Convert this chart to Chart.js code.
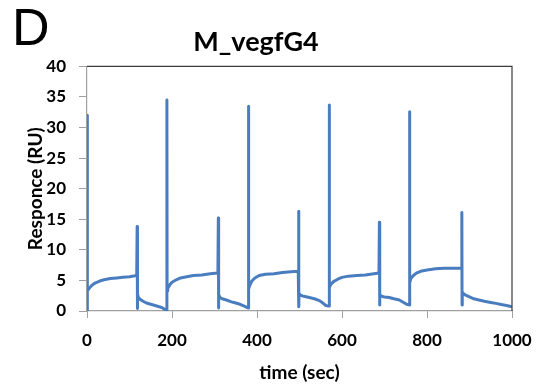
<!DOCTYPE html>
<html>
<head>
<meta charset="utf-8">
<script src="https://cdn.jsdelivr.net/npm/chart.js@4.4.1/dist/chart.umd.min.js"></script>
<style>
  html, body { margin: 0; padding: 0; background: #fff; }
  #wrap { position: relative; width: 539px; height: 390px; }
  #panel { position: absolute; left: 12px; top: 1px; font: 52px "Liberation Sans", Arial, sans-serif; line-height: 1; color: #000; }
</style>
</head>
<body>
<div id="wrap">
  <canvas id="sensorChart" width="539" height="390"></canvas>
  <div id="panel">D</div>
</div>
<script>
// sensorgram: time (sec) and response (RU)
const time = [
  0, 0, 0.5, 2, 5, 10, 15, 20, 30, 40, 55, 70, 85, 100, 117,
  118, 118.5, 119, 121, 125, 132, 140, 150, 160, 170, 178, 184, 187, 188,
  188, 188.5, 190, 195, 200, 210, 220, 235, 250, 270, 290, 308,
  309, 309.5, 310, 313, 318, 328, 340, 350, 360, 370, 376, 379,
  380, 380.5, 383, 388, 395, 405, 420, 440, 460, 480, 497,
  498, 498.5, 499, 502, 510, 523, 535, 547, 555, 562, 568, 570,
  570, 570.5, 573, 580, 590, 600, 615, 635, 655, 675, 687,
  688, 688.5, 689, 693, 700, 711, 722, 735, 745, 752, 758,
  759, 759.5, 762, 768, 775, 785, 800, 820, 840, 860, 882,
  882, 882.5, 883, 886, 891, 900, 910, 922, 935, 950, 962, 975, 990, 1000
];
const response = [
  0, 32, 2.8, 3.3, 3.7, 4.1, 4.4, 4.6, 4.9, 5.1, 5.3, 5.4, 5.5, 5.6, 5.8,
  13.8, 0.4, 2.8, 2.2, 1.9, 1.6, 1.3, 1.1, 0.9, 0.7, 0.5, 0.2, 0.0, 0.0,
  34.5, 3.3, 3.7, 4.3, 4.7, 5.1, 5.4, 5.6, 5.8, 5.9, 6.1, 6.2,
  15.2, 0.5, 2.7, 2.2, 2.0, 1.8, 1.5, 1.3, 1.1, 0.8, 0.6, 0.5,
  33.5, 3.6, 4.2, 4.9, 5.4, 5.8, 6.0, 6.1, 6.3, 6.4, 6.5,
  16.3, 0.7, 2.9, 2.6, 2.4, 2.2, 2.0, 1.7, 1.3, 0.9, 0.8, 0.8,
  33.7, 3.8, 4.3, 4.8, 5.2, 5.5, 5.7, 5.8, 5.9, 6.1, 6.2,
  14.5, 1.0, 2.7, 2.4, 2.3, 2.2, 2.0, 1.8, 1.4, 1.1, 1.0,
  32.6, 4.6, 5.3, 5.8, 6.2, 6.5, 6.7, 6.9, 7.0, 7.0, 7.0,
  16.1, 1.0, 3.1, 2.8, 2.6, 2.3, 2.0, 1.8, 1.6, 1.4, 1.25, 1.05, 0.85, 0.7
];
const xTicks = [0, 200, 400, 600, 800, 1000];
const yTicks = [0, 5, 10, 15, 20, 25, 30, 35, 40];

const points = time.map((t, i) => ({ x: t, y: response[i] }));

// top and right edges of the plot frame
const frame = {
  id: 'frame',
  afterDraw(chart) {
    const { ctx, chartArea: a } = chart;
    ctx.save();
    ctx.strokeStyle = '#3a3a3a';
    ctx.lineWidth = 1.2;
    ctx.beginPath();
    ctx.moveTo(a.left, a.top);
    ctx.lineTo(a.right, a.top);
    ctx.lineTo(a.right, a.bottom);
    ctx.stroke();
    ctx.restore();
  }
};

const tickFont = { family: 'Lato', size: 17, weight: 'bold' };
const titleFont = { family: 'Lato', size: 19, weight: 'bold' };

new Chart(document.getElementById('sensorChart'), {
  type: 'scatter',
  data: {
    datasets: [{
      data: points,
      showLine: true,
      borderColor: '#4a7dbf',
      borderWidth: 3,
      pointRadius: 0,
      tension: 0,
      borderJoinStyle: 'round'
    }]
  },
  options: {
    responsive: false,
    animation: false,
    layout: { autoPadding: false, padding: { left: 0, right: 27, top: 0, bottom: 0 } },
    plugins: {
      legend: { display: false },
      tooltip: { enabled: false },
      title: {
        display: true,
        text: 'M_vegfG4',
        color: '#000',
        font: { family: 'Lato', size: 27, weight: 'bold' },
        padding: { top: 26, bottom: 8 }
      }
    },
    scales: {
      x: {
        type: 'linear',
        min: 0,
        max: 1000,
        afterBuildTicks: s => { s.ticks = xTicks.map(v => ({ value: v })); },
        afterFit: s => { s.height = 79; s.paddingRight = 0; s.paddingLeft = 0; },
        ticks: { color: '#000', font: tickFont, padding: 12, maxRotation: 0, callback: v => String(v) },
        grid: { drawOnChartArea: false, tickLength: 7, color: '#a0a0a0' },
        border: { color: '#a0a0a0', width: 1.2 },
        title: { display: true, text: 'time (sec)', color: '#000', font: titleFont, padding: { top: 0, bottom: 6 } }
      },
      y: {
        min: 0,
        max: 40,
        afterBuildTicks: s => { s.ticks = yTicks.map(v => ({ value: v })); },
        afterFit: s => { s.width = 87; },
        ticks: { color: '#000', font: tickFont, padding: 13, callback: v => String(v) },
        grid: { drawOnChartArea: false, tickLength: 8, color: '#a0a0a0' },
        border: { color: '#a0a0a0', width: 1.2 },
        title: { display: true, text: 'Responce (RU)', color: '#000', font: titleFont, padding: { top: 24, bottom: 0 } }
      }
    }
  },
  plugins: [frame]
});
</script>
</body>
</html>
